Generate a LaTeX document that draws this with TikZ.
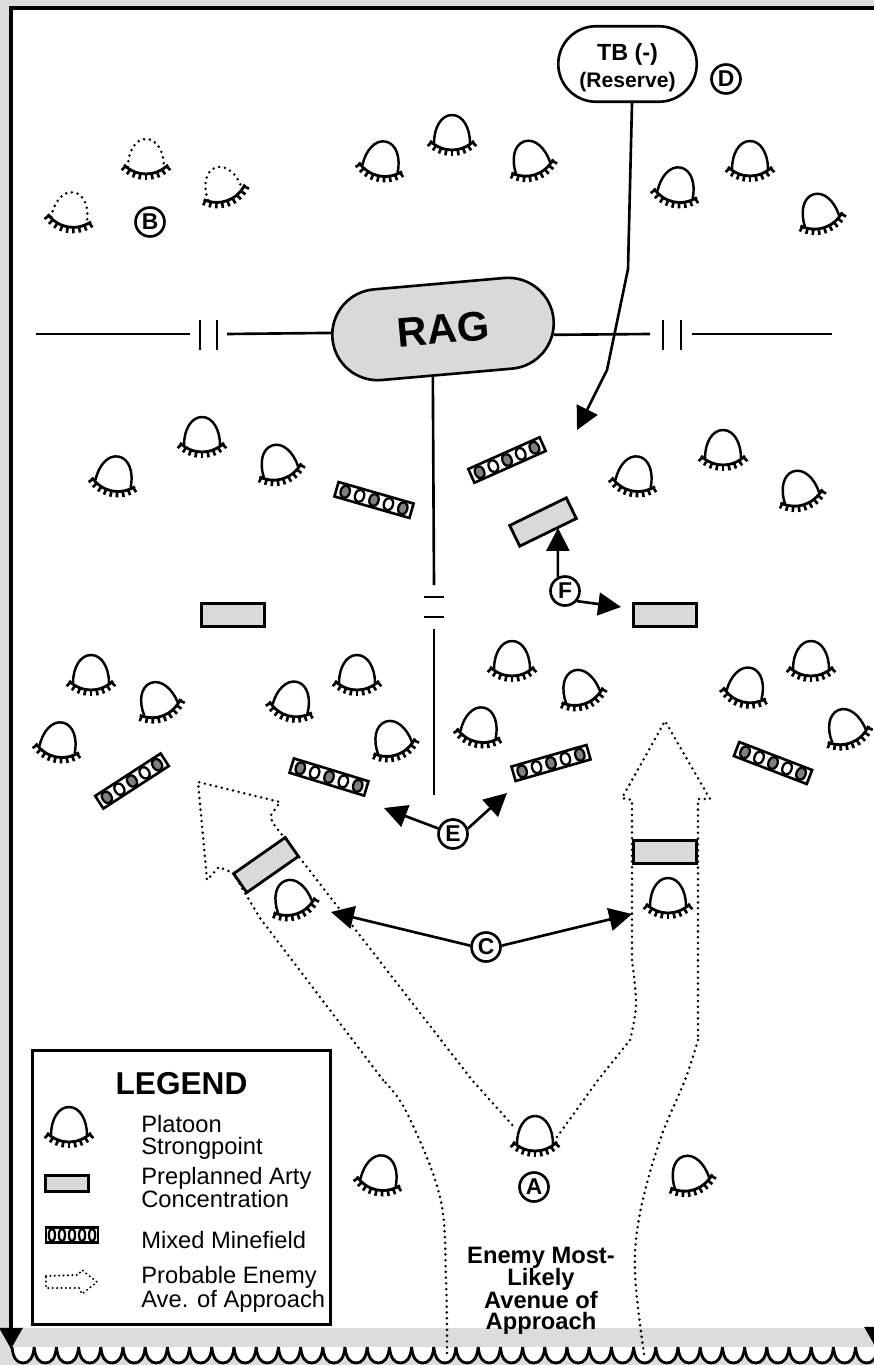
\documentclass[tikz,border=0pt]{standalone}
\usepackage{fontspec}
\setmainfont{Liberation Sans}
\usetikzlibrary{arrows.meta,shapes.misc}
\definecolor{bandgray}{HTML}{DCDCDC}
\definecolor{artygray}{HTML}{D9D9D9}
\definecolor{minegray}{HTML}{808080}
\tikzset{
  unitbox/.style={
    rounded rectangle, draw=black, line width=1.5pt, align=center, inner sep=0pt
  },
  artybox/.style={
    rectangle, draw=black, fill=artygray, line width=1.6pt,
    minimum width=1.26cm, minimum height=0.46cm, inner sep=0pt
  },
  markcircle/.style={
    circle, draw=black, fill=white, line width=1.5pt,
    minimum size=0.58cm, inner sep=0pt,
    font=\fontsize{13}{13}\selectfont\bfseries
  },
  mainline/.style={line width=1.5pt},
  tipline/.style={-{Triangle[length=13pt,width=13pt]}, line width=1.5pt},
  avenue/.style={line width=1.6pt, line cap=round, dash pattern=on 0pt off 3.3pt},
  ghost/.style={line width=1.6pt, line cap=round, dash pattern=on 0pt off 3.3pt},
  legendtext/.style={
    anchor=west, align=left, inner sep=0pt,
    font=\fontsize{13.5}{12.5}\selectfont
  },
  pics/strongpoint/.style={code={
    \draw[line width=1.4pt, #1] (-18,0) .. controls (-18,-15) and (-11,-28) .. (0,-28)
      .. controls (11,-28) and (18,-15) .. (18,0);
    \draw[line width=1.6pt] (-22,-2) .. controls (-9,10) and (9,10) .. (22,-2);
    \foreach \a in {-44,-33,...,44}
      \draw[line width=1.5pt] ({29*sin(\a)},{-22+29*cos(\a)}) -- ({35*sin(\a)},{-22+35*cos(\a)});
  }},
  pics/minefield/.style={code={
    \draw[line width=1.5pt, fill=white] (-39,-7.5) rectangle (39,7.5);
    \foreach \i/\c in {-2/#1,-1/white,0/#1,1/white,2/#1}
      \draw[line width=1.3pt, fill=\c] (\i*15,0) ellipse [x radius=2.6pt, y radius=3.6pt];
  }},
}

\begin{document}
\begin{tikzpicture}[x=0.02cm,y=-0.02cm]
  \useasboundingbox (0,0) rectangle (874,1365);
  \clip (0,0) rectangle (874,1365);

  % Frame and bottom band
  \fill[bandgray] (0,0) rectangle (874,1365);
  \fill[white] (12,9) rectangle (874,1328);
  \draw[line width=1.8pt, -{Triangle[length=12pt,width=13pt]}] (876,8) -- (11,8) -- (11,1349);
  \draw[line width=1.8pt, -{Triangle[length=12pt,width=13pt]}] (876,8) -- (876,1348);
  \foreach \k in {0,...,39}
    \draw[line width=1.6pt, fill=white] ({12+22.2*\k},1347)
      .. controls ({13+22.2*\k},1358) and ({17+22.2*\k},1363) .. ({23.1+22.2*\k},1363)
      .. controls ({29.2+22.2*\k},1363) and ({33.2+22.2*\k},1358) .. ({34.2+22.2*\k},1347);

  % Avenues of approach
  \draw[avenue] plot[smooth, tension=0.6] coordinates
    {(447,1353) (446,1280) (440,1197) (407,1113) (383,1080)};
  \draw[avenue] (383,1080) -- (260,918) -- (233,873) -- (219,867) -- (207,880) -- (198,782)
    -- (280,802) -- (271,815) -- (272,822) -- (472,1080) -- (515,1128);
  \draw[avenue] (557,1137) -- (598,1080) -- (630,1040);
  \draw[avenue] plot[smooth, tension=0.6] coordinates {(630,1040) (636,1005) (632,960)};
  \draw[avenue] (632,960) -- (632,800) -- (622,798) -- (665,721) -- (710,799) -- (698,799) -- (698,1040);
  \draw[avenue] plot[smooth, tension=0.6] coordinates
    {(698,1040) (685,1080) (660,1140) (640,1213) (635,1273) (644,1354)};

  % Strongpoints
  \foreach \sx/\sy/\sa in {380/169/-12,452/143/0,533/168/18,675/195/-12,750/169/0,822/221/18,
      113/484/-12,202/445/0,281/472/18,633/484/-12,723/458/0,802/498/18,
      91/683/0,161/709/22,57/750/-12,290/709/-15,357/683/0,395/748/20,
      512/669/0,583/697/20,478/735/-12,744/695/-15,811/669/0,849/736/22,
      295/907/20,668/906/0,535/1144/0,378/1183/-12,692/1183/18,69/1135/0}
    \pic[rotate=\sa] at (\sx,\sy) {strongpoint=solid};
  \foreach \sx/\sy/\sa in {69/220/-10,146/167/0,225/194/20}
    \pic[rotate=\sa] at (\sx,\sy) {strongpoint=ghost};

  % Minefields
  \foreach \sx/\sy/\sa in {374/500/-16,507/460/24,132/781/33,329/777/-17,551/763/16,773/763/-21}
    \pic[rotate=\sa] at (\sx,\sy) {minefield=minegray};

  % Arty concentrations
  \node[artybox] (artya) at (233,615) {};
  \node[artybox] (artyb) at (665,615) {};
  \node[artybox, rotate=26] (artyc) at (543,522) {};
  \node[artybox, rotate=35] (artyd) at (266,865) {};
  \node[artybox] (artye) at (665,852) {};

  % Units
  \node[unitbox, fill=artygray, rotate=5, minimum width=4.44cm, minimum height=1.82cm,
    font=\fontsize{23.6}{24}\selectfont\bfseries] (rag) at (443,329) {RAG};
  \node[unitbox, fill=white, minimum width=2.77cm, minimum height=1.51cm,
    font=\fontsize{12}{15.5}\selectfont\bfseries] (tb) at (627.5,64)
    {\rule{0pt}{14pt}{\fontsize{13.3}{15.5}\selectfont TB (-)}\\(Reserve)};

  % Letter marks
  \node[markcircle] (marka) at (534,1187) {A};
  \node[markcircle] (markb) at (150,222) {B};
  \node[markcircle] (markc) at (486,947) {C};
  \node[markcircle] (markd) at (726,79) {D};
  \node[markcircle] (marke) at (453,834) {E};
  \node[markcircle] (markf) at (565,591) {F};

  % Boundary lines with gaps
  \coordinate (wfar) at (36,334);
  \coordinate (wgapa) at (190,334);
  \coordinate (wgapb) at (227,334);
  \coordinate (efar) at (832,334);
  \coordinate (egapa) at (650,334);
  \coordinate (egapb) at (692,334);
  \coordinate (sgapa) at (434,585);
  \coordinate (sgapb) at (434,629);
  \coordinate (send) at (434,795);
  \draw[mainline] (wfar) -- (wgapa);
  \draw[mainline] (wgapb) -- (rag.177);
  \draw[mainline] (rag.-8) -- (egapa);
  \draw[mainline] (egapb) -- (efar);
  \draw[mainline] (rag.253) -- (sgapa);
  \draw[mainline] (sgapb) -- (send);
  \foreach \tx in {200,217,663,681}
    \draw[mainline] (\tx,320) -- (\tx,350);
  \foreach \ty in {597,617}
    \draw[mainline] (424,\ty) -- (444,\ty);

  % Reserve route
  \coordinate (tbbendb) at (628,269);
  \coordinate (tbbendc) at (607,370);
  \coordinate (tbtip) at (577,430);
  \draw[tipline] (tb.south -| 632,0) -- (tbbendb) -- (tbbendc) -- (tbtip);

  % Mark arrows
  \coordinate (ftipa) at (558,528);
  \coordinate (ftipb) at (621,607);
  \coordinate (etipa) at (384,808);
  \coordinate (etipb) at (507,793);
  \coordinate (ctipa) at (331,912);
  \coordinate (ctipb) at (632,914);
  \draw[tipline] (markf.117) -- (ftipa);
  \draw[tipline] (markf.-40) -- (ftipb);
  \draw[tipline] (marke) -- (etipa);
  \draw[tipline] (marke.20) -- (etipb);
  \draw[tipline] (markc.175) -- (ctipa);
  \draw[tipline] (markc.5) -- (ctipb);

  % Avenue label
  \node[align=center, inner sep=0pt, font=\fontsize{13.5}{12.4}\selectfont\bfseries] (avlabel)
    at (541,1290.5) {Enemy Most-\\[-0.6pt]Likely\\[-0.6pt]Avenue of\\[-0.6pt]Approach};

  % Legend
  \node[draw=black, line width=1.6pt, minimum width=5.96cm, minimum height=5.48cm, inner sep=0pt]
    (legendbox) at (181.5,1187.5) {};
  \node[inner sep=0pt, font=\fontsize{18}{18}\selectfont\bfseries] (legendtitle) at (181.5,1084) {LEGEND};
  \node[legendtext] (legplatoon) at (141,1137) {Platoon\\Strongpoint};
  \node[legendtext] (legarty) at (141,1187.5) {Preplanned Arty\\Concentration};
  \node[legendtext] (legmine) at (141,1240) {Mixed Minefield};
  \node[legendtext] (legave) at (141,1289) {Probable Enemy\\Ave. of Approach};
  \node[artybox, minimum width=0.86cm, minimum height=0.32cm] (legartybox) at (67,1183.5) {};
  \pic[xscale=0.67] at (72,1235) {minefield=white};
  \draw[line width=1.3pt, line cap=round, dash pattern=on 0pt off 2.5pt]
    (46,1276) -- (78,1275) -- (82,1270) -- (97,1282) -- (82,1294) -- (79,1288) -- (46,1288) -- cycle;
\end{tikzpicture}
\end{document}
